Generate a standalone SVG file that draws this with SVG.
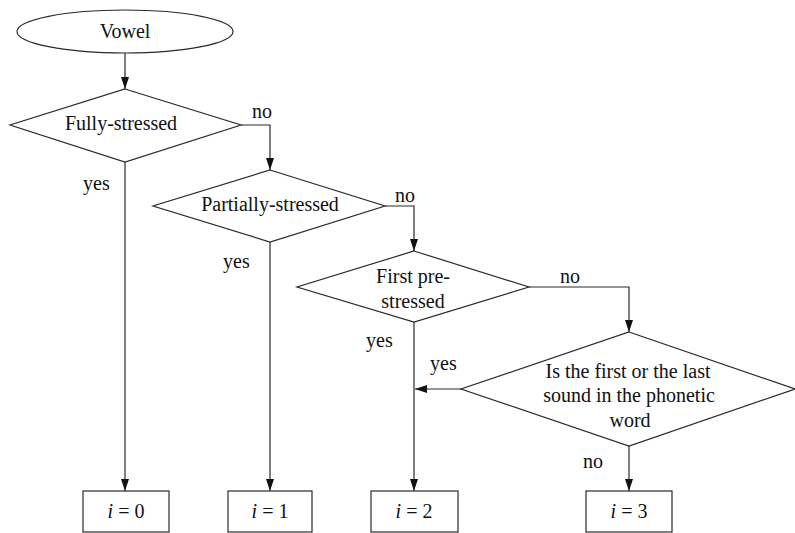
<svg xmlns="http://www.w3.org/2000/svg" width="795" height="533" viewBox="0 0 795 533">
  <style>
    .shape { fill: #ffffff; stroke: #2a2a2a; stroke-width: 1.2; }
    .edge { fill: none; stroke: #2a2a2a; stroke-width: 1.2; marker-end: url(#arrow); }
    text { font-size: 20px; fill: #111; }
    .mid { text-anchor: middle; }
    .var { font-style: italic; }
  </style>
  <defs>
    <marker id="arrow" viewBox="0 0 12 8" refX="12" refY="4" markerWidth="12" markerHeight="8" markerUnits="userSpaceOnUse" orient="auto">
      <path d="M0,0 L12,4 L0,8 Z" fill="#111"/>
    </marker>
  </defs>
  <rect width="795" height="533" fill="#ffffff"/>

  <g font-family="'Liberation Serif', 'Times New Roman', Tinos, 'DejaVu Serif', serif">
  <!-- connectors -->
  <g id="connectors">
    <path class="edge" d="M125,53 V89"/>
    <path class="edge" d="M241,125 H270 V170"/>
    <path class="edge" d="M125,162 V491"/>
    <path class="edge" d="M385,206 H414 V251"/>
    <path class="edge" d="M270,242 V491"/>
    <path class="edge" d="M529,287 H629 V332"/>
    <path class="edge" d="M414,322 V491"/>
    <path class="edge" d="M461,389 H415"/>
    <path class="edge" d="M629,446 V491"/>
    <text x="252" y="118">no</text>
    <text x="83" y="190">yes</text>
    <text x="395" y="202">no</text>
    <text x="223" y="268">yes</text>
    <text x="560" y="283">no</text>
    <text x="366" y="347">yes</text>
    <text x="430" y="370">yes</text>
    <text x="583" y="468">no</text>
  </g>

  <g id="vowel">
    <ellipse class="shape" cx="125" cy="31.5" rx="108" ry="21.5"/>
    <text class="mid" x="125" y="38">Vowel</text>
  </g>

  <g id="fully-stressed">
    <polygon class="shape" points="125,89 241,125 125,162 10,125"/>
    <text class="mid" x="121" y="130">Fully-stressed</text>
  </g>

  <g id="partially-stressed">
    <polygon class="shape" points="270,170 385,206 270,242 153,206"/>
    <text class="mid" x="270" y="211">Partially-stressed</text>
  </g>

  <g id="first-pre-stressed">
    <polygon class="shape" points="414,251 529,287 414,322 297,287"/>
    <text class="mid" x="413" y="283">First pre-</text>
    <text class="mid" x="413" y="308">stressed</text>
  </g>

  <g id="first-or-last">
    <polygon class="shape" points="629,332 795,389 629,446 461,389"/>
    <text class="mid" x="628" y="378">Is the first or the last</text>
    <text class="mid" x="629" y="402">sound in the phonetic</text>
    <text class="mid" x="630" y="427">word</text>
  </g>

  <g id="i0">
    <rect class="shape" x="83" y="491" width="86" height="41"/>
    <text class="mid" x="126" y="518"><tspan class="var">i</tspan> = 0</text>
  </g>
  <g id="i1">
    <rect class="shape" x="228" y="491" width="84" height="41"/>
    <text class="mid" x="270" y="518"><tspan class="var">i</tspan> = 1</text>
  </g>
  <g id="i2">
    <rect class="shape" x="371" y="491" width="87" height="41"/>
    <text class="mid" x="414" y="518"><tspan class="var">i</tspan> = 2</text>
  </g>
  <g id="i3">
    <rect class="shape" x="586" y="491" width="86" height="41"/>
    <text class="mid" x="629" y="518"><tspan class="var">i</tspan> = 3</text>
  </g>
  </g>
</svg>
